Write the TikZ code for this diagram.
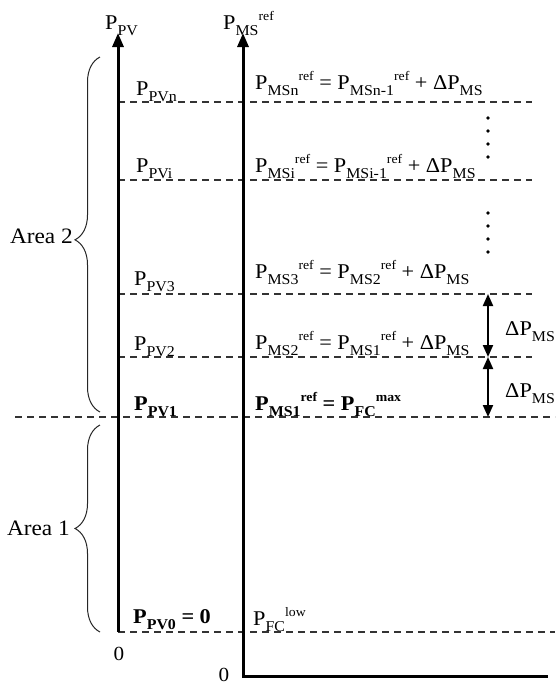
\documentclass[tikz,border=0pt]{standalone}
\usepackage{fontspec}
\setmainfont{Liberation Serif}[FakeStretch=1.06]
\usetikzlibrary{arrows.meta,decorations.pathreplacing}
\newcommand{\lo}[1]{\raisebox{-6pt}{\fontsize{15}{15}\selectfont #1}}
\newcommand{\hi}[1]{\raisebox{9pt}{\fontsize{13}{13}\selectfont #1}}
\tikzset{
  lbl/.style={anchor=base west, inner sep=0pt, font=\fontsize{21}{24}\selectfont},
  clbl/.style={anchor=base, inner sep=0pt, font=\fontsize{20}{22}\selectfont},
  rlbl/.style={anchor=base east, inner sep=0pt, font=\fontsize{22}{24}\selectfont},
  axln/.style={line width=3pt, {Triangle[length=14pt,width=11pt]}-},
  dline/.style={line width=1.3pt, dash pattern=on 7pt off 5pt, black!80},
  dbl/.style={line width=2pt, {Triangle[length=12pt,width=10pt]}-{Triangle[length=12pt,width=10pt]}},
  brc/.style={decorate, decoration={brace, amplitude=25pt, raise=0pt}, line width=1pt, black!85},
  dotm/.style={circle, fill=black, inner sep=0pt, minimum size=3.6pt}
}
\begin{document}
\begin{tikzpicture}[x=1pt,y=-1pt]
\useasboundingbox (0,0) rectangle (555,686);
% coordinates
\coordinate (pvtop) at (118,33);
\coordinate (pvbot) at (118,632);
\coordinate (mstop) at (243,33);
\coordinate (msorig) at (243,676);
\coordinate (msend) at (548,676);
\coordinate (ln0) at (118,102); \coordinate (rn0) at (532,102);
\coordinate (ln1) at (118,180); \coordinate (rn1) at (532,180);
\coordinate (ln3) at (118,294); \coordinate (rn3) at (532,294);
\coordinate (ln2) at (118,357); \coordinate (rn2) at (532,357);
\coordinate (lp1) at (15,417);  \coordinate (rp1) at (555,417);
\coordinate (lp0) at (118,632); \coordinate (rp0) at (555,632);
% dashed levels
\draw[dline] (ln0) -- (rn0);
\draw[dline] (ln1) -- (rn1);
\draw[dline] (ln3) -- (rn3);
\draw[dline] (ln2) -- (rn2);
\draw[dline] (lp1) -- (rp1);
\draw[dline] (lp0) -- (rp0);
% axes
\draw[axln] (pvtop) -- (pvbot);
\draw[axln, line join=miter] (mstop) -- (msorig) -- (msend);
% axis labels
\node[lbl] (ppv) at (105,29) {P\lo{PV}};
\node[lbl] (pms) at (223,29) {P\lo{MS}\hi{ref}};
\node[clbl] (z1) at (119,660) {0};
\node[clbl] (z2) at (224,681) {0};
% PV levels
\node[lbl] (pvn) at (136,95) {P\lo{PVn}};
\node[lbl] (pvi) at (136,172) {P\lo{PVi}};
\node[lbl] (pv3) at (134,285) {P\lo{PV3}};
\node[lbl] (pv2) at (134,350) {P\lo{PV2}};
\node[lbl] (pv1) at (134,410) {\bfseries P\lo{PV1}};
\node[lbl] (pv0) at (133,623) {\bfseries P\lo{PV0} = 0};
% MS levels
\node[lbl] (msn) at (255,89) {P\lo{MSn}\hi{ref} = P\lo{MSn-1}\hi{ref} + ΔP\lo{MS}};
\node[lbl] (msi) at (255,172) {P\lo{MSi}\hi{ref} = P\lo{MSi-1}\hi{ref} + ΔP\lo{MS}};
\node[lbl] (ms3) at (255,278) {P\lo{MS3}\hi{ref} = P\lo{MS2}\hi{ref} + ΔP\lo{MS}};
\node[lbl] (ms2) at (255,349) {P\lo{MS2}\hi{ref} = P\lo{MS1}\hi{ref} + ΔP\lo{MS}};
\node[lbl] (ms1) at (255,410) {\bfseries P\lo{MS1}\hi{ref} = P\lo{FC}\hi{max}};
\node[lbl] (fcl) at (253,625) {P\lo{FC}\hi{low}};
% dots
\foreach \yy in {118,131,144,157,213,226,239,252}
  \node[dotm] at (488,\yy) {};
% delta arrows
\coordinate (a3) at (488,294);
\coordinate (a2) at (488,357);
\coordinate (a1) at (488,417);
\draw[dbl] (a3) -- (a2);
\draw[dbl] (a2) -- (a1);
\node[lbl] (d1) at (505,335) {ΔP\lo{MS}};
\node[lbl] (d2) at (505,397) {ΔP\lo{MS}};
% braces
\coordinate (b2s) at (100,412);
\coordinate (b2e) at (100,57);
\coordinate (b1s) at (100,632);
\coordinate (b1e) at (100,425);
\draw[brc, decoration={aspect=0.485}] (b2s) -- (b2e);
\draw[brc, decoration={aspect=0.5}] (b1s) -- (b1e);
\node[rlbl] (ar2) at (73,243) {Area 2};
\node[rlbl] (ar1) at (70,535) {Area 1};
\end{tikzpicture}
\end{document}
